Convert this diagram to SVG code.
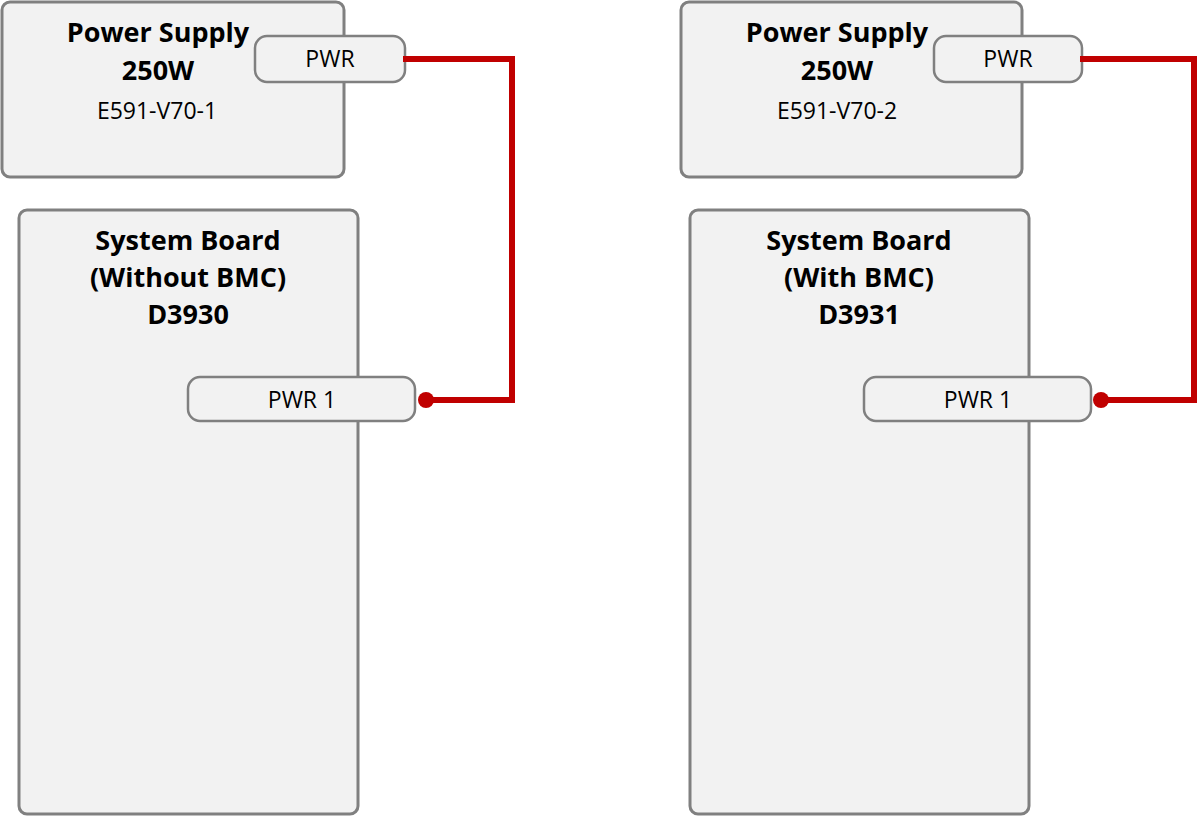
<svg xmlns="http://www.w3.org/2000/svg" width="1198" height="816" viewBox="0 0 1198 816">
<style>
.box{fill:#f2f2f2;stroke:#808080;stroke-width:3}
.port{fill:#f2f2f2;stroke:#808080;stroke-width:2.5}
.t{font-family:"Open Sans","Liberation Sans",sans-serif;fill:#000;text-anchor:middle}
.b{font-weight:bold;font-size:27px}
.r{font-size:23px}
.wire{fill:none;stroke:#c00000;stroke-width:6;stroke-linejoin:miter}
</style>
<rect width="1198" height="816" fill="#fff"/>
<g id="sb1">
<rect class="box" x="19" y="210" width="339" height="604" rx="8"/>
<text class="t b" x="188" y="250">System Board</text>
<text class="t b" x="188" y="287">(Without BMC)</text>
<text class="t b" x="188" y="324">D3930</text>
</g>
<g id="sb1-pwr1">
<rect class="port" x="188" y="377" width="227" height="44" rx="12"/>
<text class="t r" x="302" y="408">PWR 1</text>
</g>
<g id="ps1">
<rect class="box" x="2" y="2" width="342" height="175" rx="8"/>
<text class="t b" x="158" y="42">Power Supply</text>
<text class="t b" x="158" y="80">250W</text>
<text class="t r" x="157" y="119">E591-V70-1</text>
</g>
<g id="ps1-pwr">
<rect class="port" x="255" y="36" width="150" height="46" rx="12"/>
<text class="t r" x="330" y="67">PWR</text>
</g>
<g id="sb2">
<rect class="box" x="690" y="210" width="339" height="604" rx="8"/>
<text class="t b" x="859" y="250">System Board</text>
<text class="t b" x="859" y="287">(With BMC)</text>
<text class="t b" x="859" y="324">D3931</text>
</g>
<g id="sb2-pwr1">
<rect class="port" x="864" y="377" width="227" height="44" rx="12"/>
<text class="t r" x="978" y="408">PWR 1</text>
</g>
<g id="ps2">
<rect class="box" x="681" y="2" width="341" height="175" rx="8"/>
<text class="t b" x="837" y="42">Power Supply</text>
<text class="t b" x="837" y="80">250W</text>
<text class="t r" x="837" y="119">E591-V70-2</text>
</g>
<g id="ps2-pwr">
<rect class="port" x="934" y="36" width="148" height="46" rx="12"/>
<text class="t r" x="1008" y="67">PWR</text>
</g>
<g id="connectors">
<polyline class="wire" points="403,59 512,59 512,400 426,400"/>
<circle cx="426" cy="400" r="8" fill="#c00000"/>
<polyline class="wire" points="1080,59 1194,59 1194,400 1101,400"/>
<circle cx="1101" cy="400" r="8" fill="#c00000"/>
</g>
</svg>
